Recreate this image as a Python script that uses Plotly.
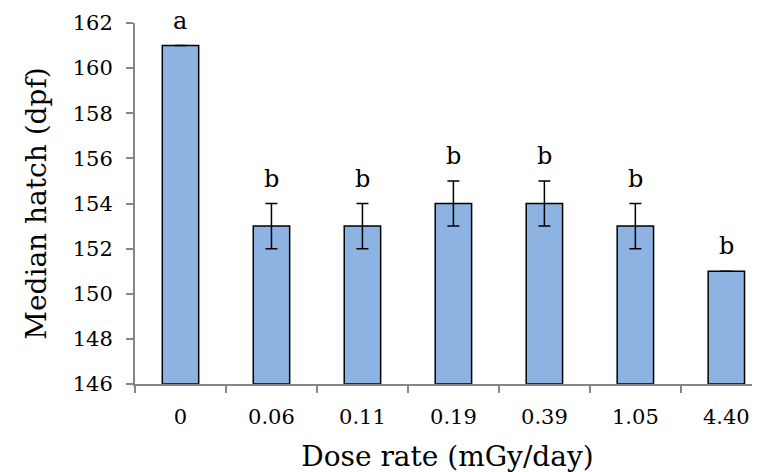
import plotly.graph_objects as go

categories = ["0", "0.06", "0.11", "0.19", "0.39", "1.05", "4.40"]
median_hatch = [161, 153, 153, 154, 154, 153, 151]
error_vals = [0, 1, 1, 1, 1, 1, 0]
letters = ["a", "b", "b", "b", "b", "b", "b"]
y_ticks = [146, 148, 150, 152, 154, 156, 158, 160, 162]

FONT = "'DejaVu Serif', Georgia, serif"
AXIS_COLOR = "#868686"

fig = go.Figure()
fig.add_trace(go.Bar(
    x=categories,
    y=[v - 146 for v in median_hatch],
    base=146,
    width=0.4,
    marker=dict(color="#8DB3E2", line=dict(color="black", width=1.5)),
    error_y=dict(type="data", array=error_vals, visible=True,
                 color="black", thickness=1.5, width=6),
    showlegend=False,
))

for i, (v, e, lab) in enumerate(zip(median_hatch, error_vals, letters)):
    fig.add_annotation(x=i, y=v + e, text=lab, showarrow=False,
                       xref="x", yref="y",
                       yanchor="bottom", yshift=9,
                       font=dict(family=FONT, size=24, color="black"))

fig.update_layout(
    width=760, height=472,
    margin=dict(l=127, r=8, t=15, b=96),
    plot_bgcolor="white", paper_bgcolor="white",
    font=dict(family=FONT, color="black"),
    xaxis=dict(
        type="category",
        range=[-0.5, 6.37],
        automargin=False,
        showline=True, linecolor=AXIS_COLOR, linewidth=2,
        ticks="outside", tickson="boundaries", ticklen=7,
        tickcolor=AXIS_COLOR, tickwidth=2,
        tickfont=dict(family=FONT, size=21),
        ticklabelstandoff=13,
        title=dict(text="Dose rate (mGy/day)", font=dict(family=FONT, size=28), standoff=18),
        showgrid=False,
    ),
    yaxis=dict(
        range=[146, 162],
        automargin=False,
        tickvals=y_ticks,
        showline=True, linecolor=AXIS_COLOR, linewidth=2,
        ticks="outside", ticklen=7, tickcolor=AXIS_COLOR, tickwidth=2,
        tickfont=dict(family=FONT, size=21),
        ticklabelstandoff=9,
        title=dict(text="Median hatch (dpf)", font=dict(family=FONT, size=28), standoff=18),
        showgrid=False, zeroline=False,
    ),
)

fig.write_html("out.html")
